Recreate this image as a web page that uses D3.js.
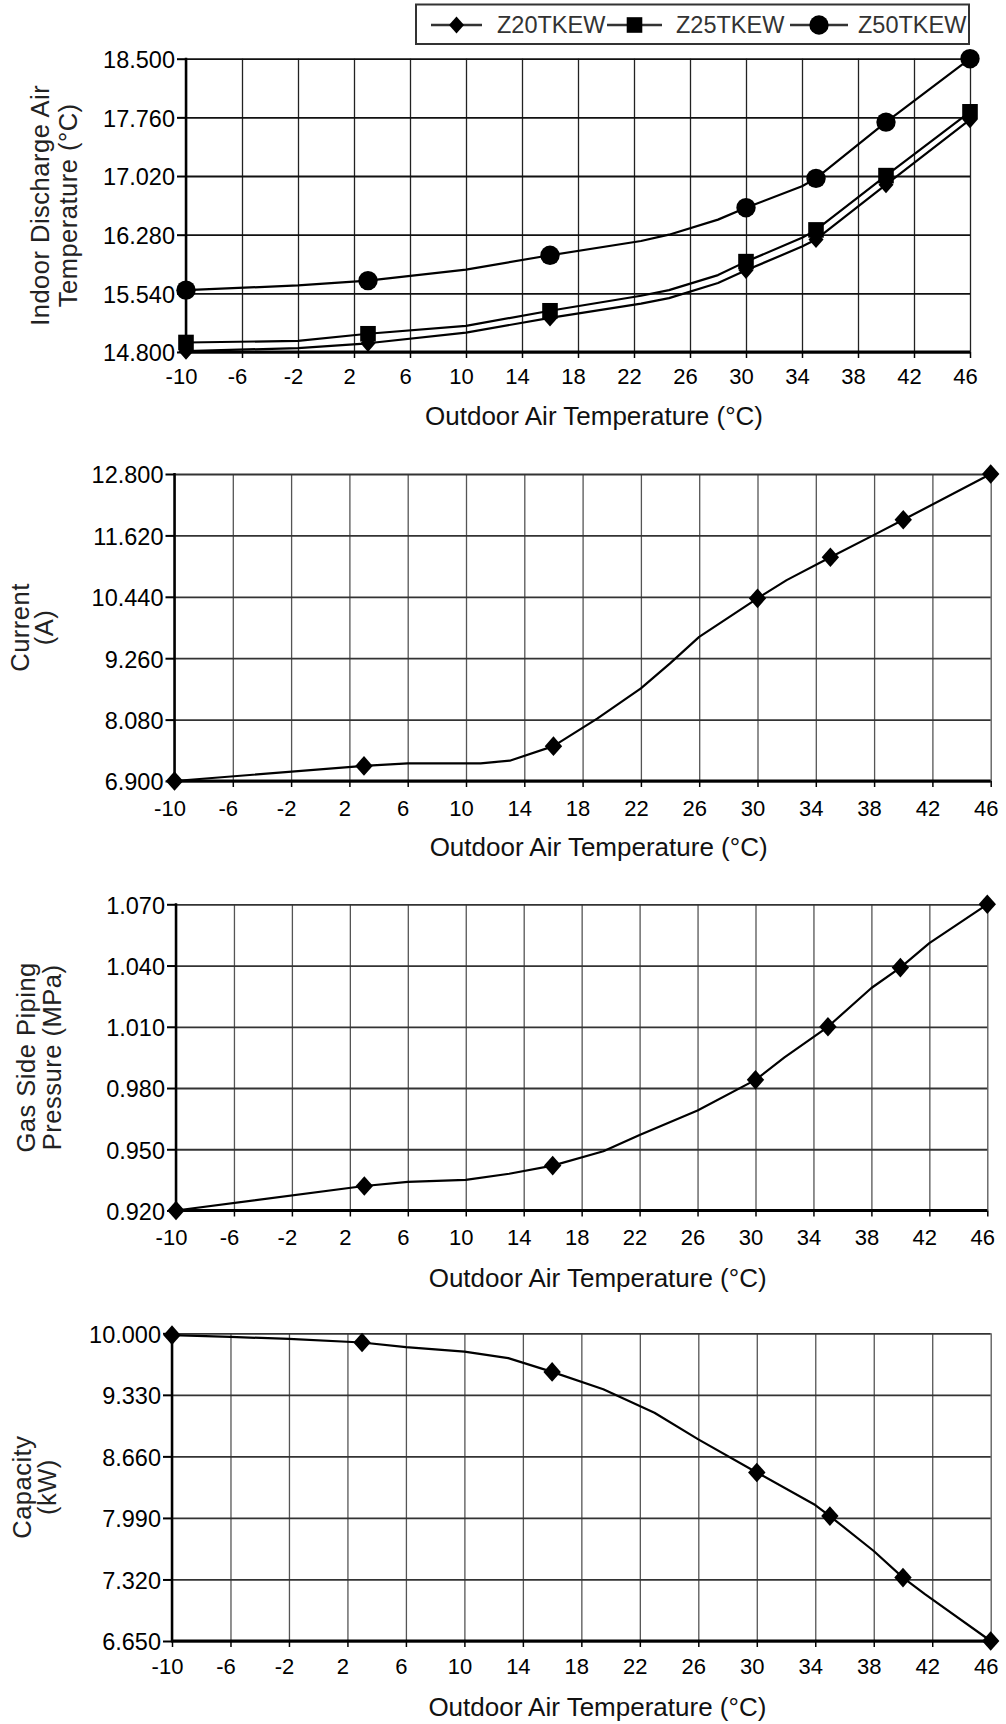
<!DOCTYPE html>
<html><head><meta charset="utf-8">
<script src="https://cdn.jsdelivr.net/npm/d3@7/dist/d3.min.js"></script>
<style>
html,body{margin:0;padding:0;background:#fff;}
svg{display:block;font-family:"Liberation Sans",Arial,sans-serif;}
</style></head>
<body>
<svg id="c" width="1006" height="1724"></svg>
<script>
// ---------- DATA ----------
const xTicks = [-10,-6,-2,2,6,10,14,18,22,26,30,34,38,42,46];
const markerX = [-10,3,16,30,35,40,46];
const xTitle = "Outdoor Air Temperature (°C)";

// Chart 1: Indoor discharge air temperature
const dischargeTicks = [14.8,15.54,16.28,17.02,17.76,18.5];
const dischargeX = [-10,-2,3,10,16,22.5,24.5,28,30,34,35,40,46];
const z20Y = [14.81,14.85,14.91,15.045,15.23,15.41,15.48,15.67,15.83,16.13,16.22,16.91,17.73];
const z25Y = [14.92,14.94,15.03,15.13,15.32,15.51,15.58,15.77,15.94,16.24,16.34,17.025,17.83];
const z50Y = [15.58,15.64,15.70,15.84,16.02,16.20,16.28,16.47,16.62,16.89,16.99,17.70,18.50];
const seriesNames = ["Z20TKEW","Z25TKEW","Z50TKEW"];

// Chart 2: Current
const currentTicks = [6.9,8.08,9.26,10.44,11.62,12.8];
const currentX = [-10,3,6,11,13,16,19,22,24,26,30,32,35,38,40,46];
const currentY = [6.90,7.19,7.24,7.24,7.29,7.57,8.10,8.68,9.16,9.67,10.41,10.76,11.20,11.63,11.92,12.80];

// Chart 3: Gas side piping pressure
const pressureTicks = [0.92,0.95,0.98,1.01,1.04,1.07];
const pressureX = [-10,3,6,10,13,16,19.5,22,26,30,32,35,38,40,42,46];
const pressureY = [0.920,0.932,0.934,0.935,0.938,0.942,0.949,0.957,0.969,0.984,0.995,1.010,1.029,1.039,1.051,1.070];

// Chart 4: Capacity
const capacityTicks = [6.65,7.32,7.99,8.66,9.33,10.0];
const capacityX = [-10,-6,-2,3,6,10,13,16,19.5,23,26,30,34,35,38,40,41.5,46];
const capacityY = [9.98,9.96,9.94,9.90,9.85,9.80,9.73,9.58,9.39,9.135,8.845,8.485,8.13,8.01,7.63,7.34,7.16,6.65];

// ---------- LAYOUT ----------
const panels = [
  {box:[186,970,58.7,352], ticks:dischargeTicks, yTitle:["Indoor Discharge Air","Temperature (°C)"], yTitleX:[40,68],
   series:[{x:dischargeX,y:z20Y,m:"diamond"},{x:dischargeX,y:z25Y,m:"square"},{x:dischargeX,y:z50Y,m:"circle"}],
   gridH:"#111", gridV:"#222", lblDy:24, titleDy:64, small:true},
  {box:[174.5,990.7,474,781], ticks:currentTicks, yTitle:["Current","(A)"], yTitleX:[20,44],
   series:[{x:currentX,y:currentY,m:"diamond"}], gridH:"#333", gridV:"#555", lblDy:27, titleDy:66},
  {box:[176,987.3,904.3,1210.5], ticks:pressureTicks, yTitle:["Gas Side Piping","Pressure (MPa)"], yTitleX:[26,52],
   series:[{x:pressureX,y:pressureY,m:"diamond"}], gridH:"#333", gridV:"#555", lblDy:27, titleDy:67},
  {box:[172,990.7,1333.3,1641], ticks:capacityTicks, yTitle:["Capacity","(kW)"], yTitleX:[22,47],
   series:[{x:capacityX,y:capacityY,m:"diamond"}], gridH:"#333", gridV:"#555", lblDy:25, titleDy:66}
];

const svg = d3.select("#c");
const fmt = d3.format(".3f");

function marker(g, type, cx, cy, small){
  if(type==="circle"){
    g.append("circle").attr("cx",cx).attr("cy",cy).attr("r",9.7).attr("fill","#000");
  } else if(type==="square"){
    g.append("rect").attr("x",cx-7.8).attr("y",cy-7.8).attr("width",15.6).attr("height",15.6).attr("fill","#000");
  } else {
    const w = small?7.5:8.7, h = small?8.6:9.8;
    g.append("path").attr("d",`M${cx},${cy-h}L${cx+w},${cy}L${cx},${cy+h}L${cx-w},${cy}Z`).attr("fill","#000");
  }
}

panels.forEach(p=>{
  const [l,r,t,b] = p.box;
  const x = d3.scaleLinear().domain([-10,46]).range([l,r]);
  const y = d3.scaleLinear().domain([p.ticks[0],p.ticks[p.ticks.length-1]]).range([b,t]);
  const g = svg.append("g");

  // vertical grid
  g.append("g").call(d3.axisBottom(x).tickValues(xTicks).tickSize(-(b-t)).tickFormat(""))
    .attr("transform",`translate(0,${b})`)
    .call(s=>{s.select(".domain").remove(); s.selectAll("line").attr("stroke",p.gridV).attr("stroke-width",1.3);});
  // horizontal grid
  g.append("g").call(d3.axisLeft(y).tickValues(p.ticks).tickSize(-(r-l)).tickFormat(""))
    .attr("transform",`translate(${l},0)`)
    .call(s=>{s.select(".domain").remove(); s.selectAll("line").attr("stroke",p.gridH).attr("stroke-width",1.8);});

  // y axis with ticks and labels
  const ya = g.append("g").attr("transform",`translate(${l},0)`)
    .call(d3.axisLeft(y).tickValues(p.ticks).tickSize(9).tickPadding(2).tickFormat(fmt));
  ya.select(".domain").attr("stroke","#000").attr("stroke-width",2.5).attr("d",`M0,${t-1}V${b+1}`);
  ya.selectAll("line").attr("stroke","#000").attr("stroke-width",2);
  ya.selectAll("text").attr("font-size",23.5).attr("fill","#000").attr("font-family","Liberation Sans, Arial, sans-serif").attr("dy","0.38em");

  // x axis
  const xa = g.append("g").attr("transform",`translate(0,${b})`)
    .call(d3.axisBottom(x).tickValues(xTicks).tickSize(6).tickFormat(d=>d));
  xa.select(".domain").attr("stroke","#000").attr("stroke-width",3).attr("d",`M${l-1},0H${r}`);
  xa.selectAll("line").attr("stroke","#000").attr("stroke-width",1.5);
  xa.selectAll("text").attr("font-size",22).attr("fill","#000").attr("font-family","Liberation Sans, Arial, sans-serif")
    .attr("y",p.lblDy).attr("dy","0.36em").attr("dx",-5);

  // x title
  g.append("text").attr("x",(l+r)/2+16).attr("y",b+p.titleDy).attr("dy","0.36em")
    .attr("text-anchor","middle").attr("font-size",26).attr("fill","#111").text(xTitle);

  // y title
  const ym = (t+b)/2;
  p.yTitle.forEach((s,i)=>{
    g.append("text").attr("transform",`translate(${p.yTitleX[i]},${ym}) rotate(-90)`)
      .attr("text-anchor","middle").attr("dy","0.36em").attr("font-size",25.5).attr("fill","#222")
      .attr("letter-spacing",0.5).text(s);
  });

  // series
  const line = d3.line().x(d=>x(d[0])).y(d=>y(d[1]));
  p.series.forEach(s=>{
    const pts = s.x.map((v,i)=>[v,s.y[i]]);
    g.append("path").attr("d",line(pts)).attr("fill","none").attr("stroke","#000").attr("stroke-width",2.2).attr("stroke-linejoin","round");
    pts.filter(d=>markerX.includes(d[0])).forEach(d=>marker(g,s.m,x(d[0]),y(d[1]),p.small));
  });
});

// legend
const lg = svg.append("g");
lg.append("rect").attr("x",416).attr("y",4.5).attr("width",553).attr("height",39.5).attr("fill","#fff").attr("stroke","#333").attr("stroke-width",2);
const legItems = [
  {name:seriesNames[0], m:"diamond", x0:431, x1:482, tx:497},
  {name:seriesNames[1], m:"square",  x0:607, x1:662, tx:676},
  {name:seriesNames[2], m:"circle",  x0:790, x1:848, tx:858}
];
legItems.forEach(it=>{
  lg.append("line").attr("x1",it.x0).attr("x2",it.x1).attr("y1",25).attr("y2",25).attr("stroke","#333").attr("stroke-width",2.5);
  marker(lg,it.m,(it.x0+it.x1)/2,25,true);
  lg.append("text").attr("x",it.tx).attr("y",25).attr("dy","0.36em").attr("font-size",23.5).attr("fill","#333").text(it.name);
});
</script>
</body></html>
